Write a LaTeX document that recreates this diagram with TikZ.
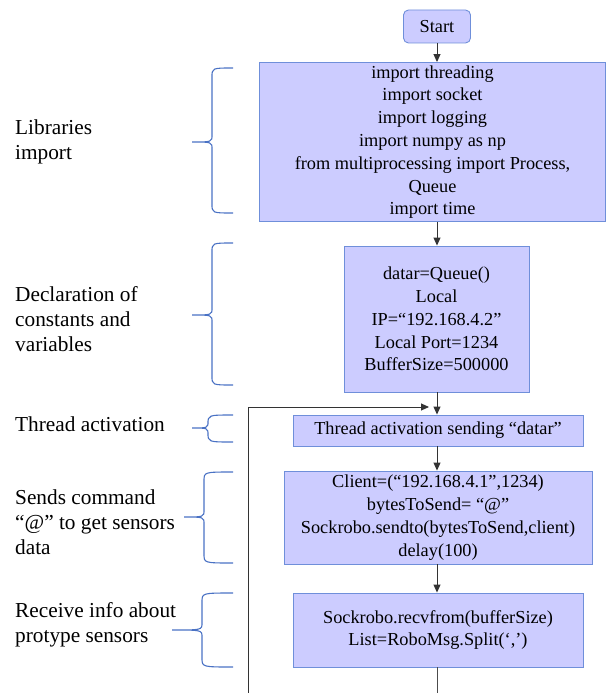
\documentclass[tikz,border=0pt]{standalone}
\usepackage{fontspec}
\setmainfont{Liberation Serif}
\usetikzlibrary{arrows.meta}
\definecolor{boxfill}{HTML}{CCCCFF}
\definecolor{boxline}{HTML}{6F8FDA}
\definecolor{bracecol}{HTML}{4A72C4}
\newcommand{\BraceL}[6]{% xe xv xt ytop ymid ybot
  \draw[bracecol, line width=1.1pt]
    (#1,#4) .. controls (#2,#4) .. (#2,#4+9) -- (#2,#5-7)
    .. controls (#2,#5) .. (#3,#5)
    .. controls (#2,#5) .. (#2,#5+7) -- (#2,#6-9)
    .. controls (#2,#6) .. (#1,#6);}
\tikzset{
  box/.style={draw=boxline, fill=boxfill, line width=0.9pt, align=center,
    inner sep=0pt, font=\fontsize{18.3}{22.8}\selectfont},
  lbl/.style={anchor=west, align=left, inner sep=0pt,
    font=\fontsize{21.3}{25}\selectfont},
  arr/.style={-{Triangle[length=8pt,width=7pt]}, line width=0.9pt, black!80},
  plain/.style={line width=0.9pt, black!70}
}
\begin{document}
\begin{tikzpicture}[x=1pt,y=-1pt]
\useasboundingbox (0,0) rectangle (607,693);
% boxes
\node[box, rounded corners=5pt, minimum width=67pt, minimum height=33pt] (start) at (437,26.5) {Start};
\node[box, minimum width=346pt, minimum height=159pt] (lib) at (432.5,142) {\raisebox{-2pt}{}import threading\\import socket\\import logging\\import numpy as np\\from multiprocessing import Process,\\Queue\\import time};
\node[box, minimum width=185pt, minimum height=146pt] (decl) at (436.5,319) {datar=Queue()\\Local\\IP=“192.168.4.2”\\Local Port=1234\\BufferSize=500000};
\node[box, minimum width=290pt, minimum height=31pt] (thread) at (438,430.5) {Thread activation sending “datar”};
\node[box, minimum width=308pt, minimum height=93pt] (client) at (438,517.5) {Client=(“192.168.4.1”,1234)\\bytesToSend= “@”\\Sockrobo.sendto(bytesToSend,client)\\delay(100)};
\node[box, minimum width=290pt, minimum height=74pt] (recv) at (438,630) {Sockrobo.recvfrom(bufferSize)\\List=RoboMsg.Split(‘,’)};
% connectors
\draw[arr] (start.south) -- (start.south |- lib.north);
\draw[arr] (start.south |- lib.south) -- (start.south |- decl.north);
\draw[arr] (start.south |- decl.south) -- (start.south |- thread.north);
\draw[arr] (start.south |- thread.south) -- (start.south |- client.north);
\draw[arr] (start.south |- client.south) -- (start.south |- recv.north);
\coordinate (bottom) at (437,693);
\draw[plain] (start.south |- recv.south) -- (bottom);
\coordinate (loopB) at (248,693);
\coordinate (loopE) at (429,407);
\draw[arr] (loopB) |- (loopE);
% labels
\node[lbl] (l1) at (15,141.5) {Libraries\\import};
\node[lbl] (l2) at (15,319) {Declaration of\\constants and\\variables};
\node[lbl] (l3) at (15,424) {Thread activation};
\node[lbl] (l4) at (15,522) {Sends command\\“@” to get sensors\\data};
\node[lbl] (l5) at (15,624.5) {Receive info about\\protype sensors};
% braces
\BraceL{233}{212}{192}{68}{142}{213}
\BraceL{233}{212}{192}{243}{315}{385}
\BraceL{233}{208}{192}{415}{428}{442}
\BraceL{233}{204}{184}{472}{517}{563}
\BraceL{233}{202}{172}{593}{630}{667}
\end{tikzpicture}
\end{document}
